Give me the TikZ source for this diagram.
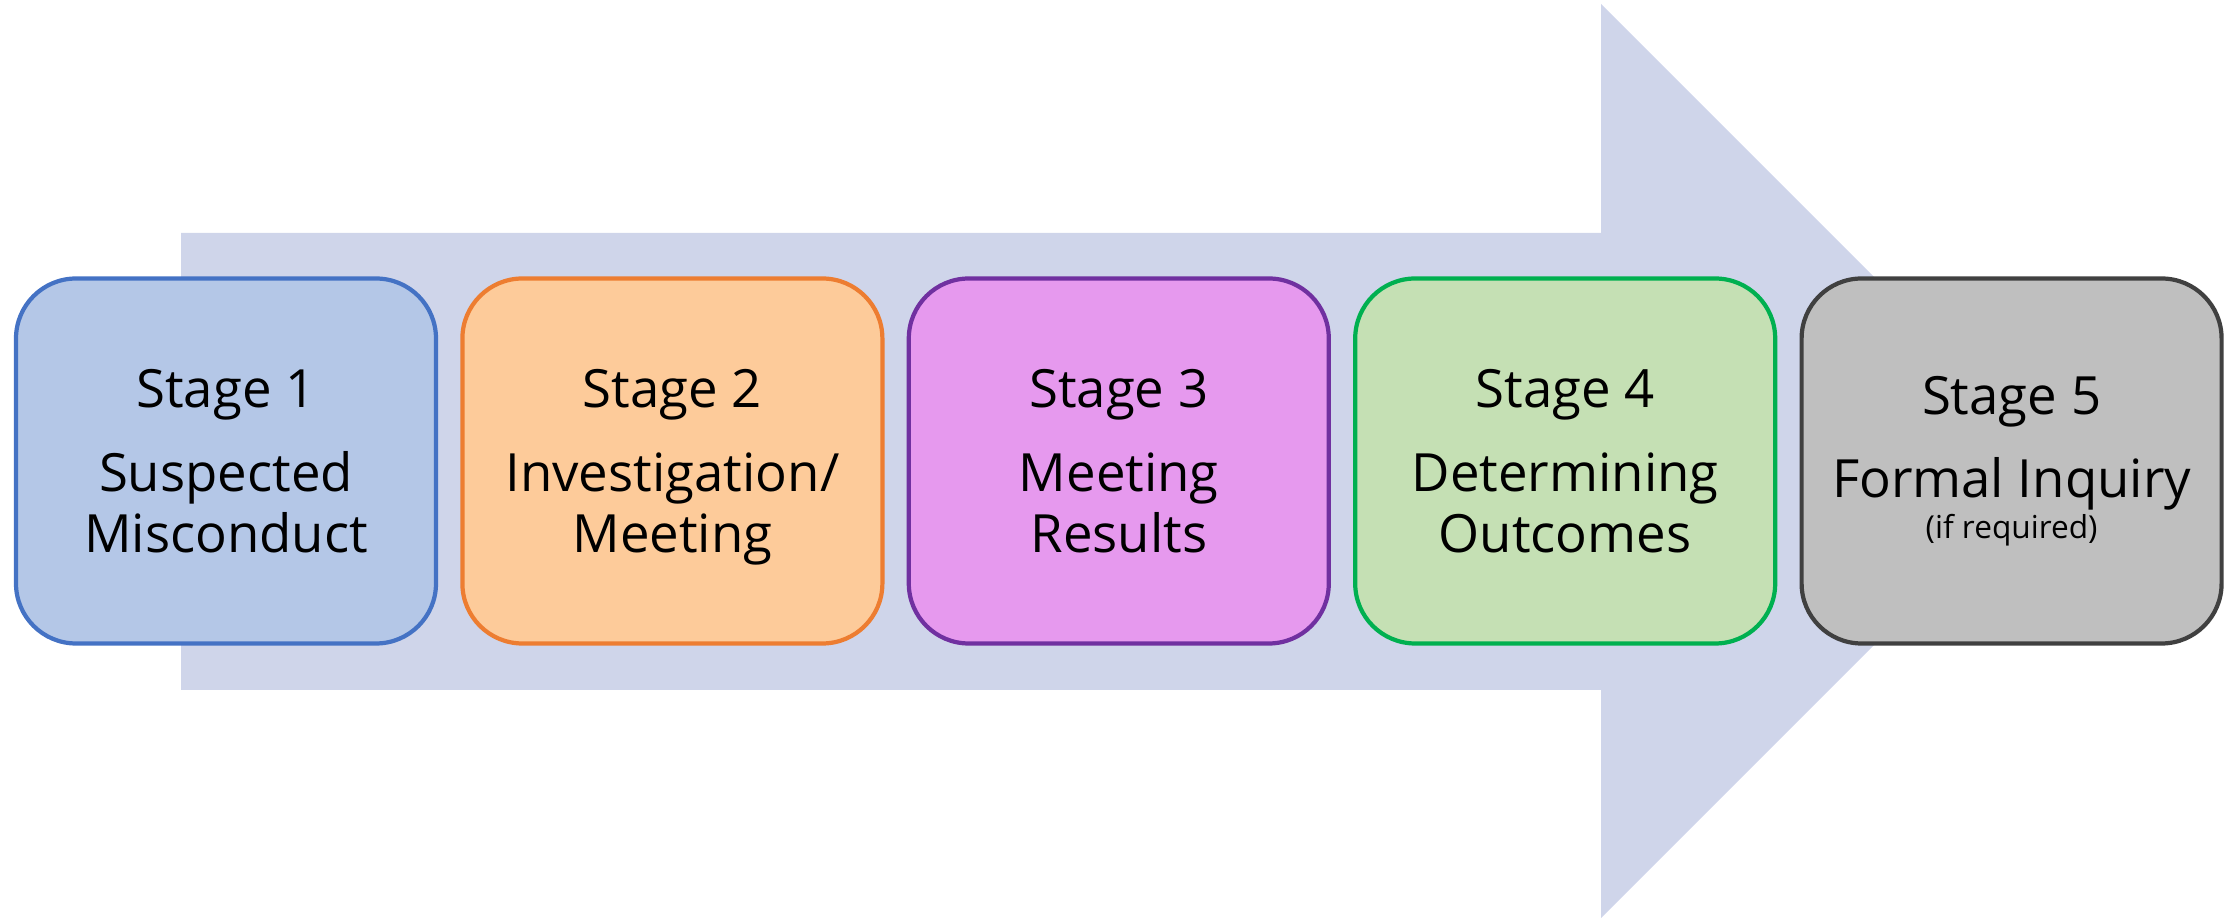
\documentclass[tikz,border=0pt]{standalone}
\usepackage{fontspec}
\setmainfont{Open Sans}
\usetikzlibrary{positioning}
\definecolor{arrowfill}{HTML}{CFD5EA}
\definecolor{fillA}{HTML}{B4C7E7}
\definecolor{lineA}{HTML}{4472C4}
\definecolor{fillB}{HTML}{FDCB9A}
\definecolor{lineB}{HTML}{ED7D31}
\definecolor{fillC}{HTML}{E699EE}
\definecolor{lineC}{HTML}{7030A0}
\definecolor{fillD}{HTML}{C5E0B4}
\definecolor{lineD}{HTML}{00B050}
\definecolor{fillE}{HTML}{BFBFBF}
\definecolor{lineE}{HTML}{404040}
\begin{document}
\begin{tikzpicture}[node distance=4.464cm,on grid,
  stage/.style={draw,line width=1.2pt,rounded corners=0.6cm,minimum width=4.2cm,
    minimum height=3.65cm,align=center,font=\fontsize{15}{17.4}\selectfont}]
\useasboundingbox (0,0) rectangle (22.39,9.18);
\fill[arrowfill] (1.81,6.85) -- (16.01,6.85) -- (16.01,9.14) -- (20.58,4.57)
  -- (16.01,0) -- (16.01,2.28) -- (1.81,2.28) -- cycle;
\node[stage,fill=fillA,draw=lineA] (s_1) at (2.26,4.57) {Stage 1\\[6.6pt]Suspected\\Misconduct};
\node[stage,fill=fillB,draw=lineB] (s_2) [right=of s_1] {Stage 2\\[6.6pt]Investigation/\\\smash{Meeting}};
\node[stage,fill=fillC,draw=lineC] (s_3) [right=of s_2] {Stage 3\\[6.6pt]Meeting\\Results};
\node[stage,fill=fillD,draw=lineD] (s_4) [right=of s_3] {Stage 4\\[6.6pt]Determining\\Outcomes};
\node[stage,fill=fillE,draw=lineE] (s_5) [right=of s_4] {Stage 5\\[6.2pt]Formal Inquiry\\[-5.6pt]{\fontsize{9}{10.6}\selectfont (if required)}};
\end{tikzpicture}
\end{document}
